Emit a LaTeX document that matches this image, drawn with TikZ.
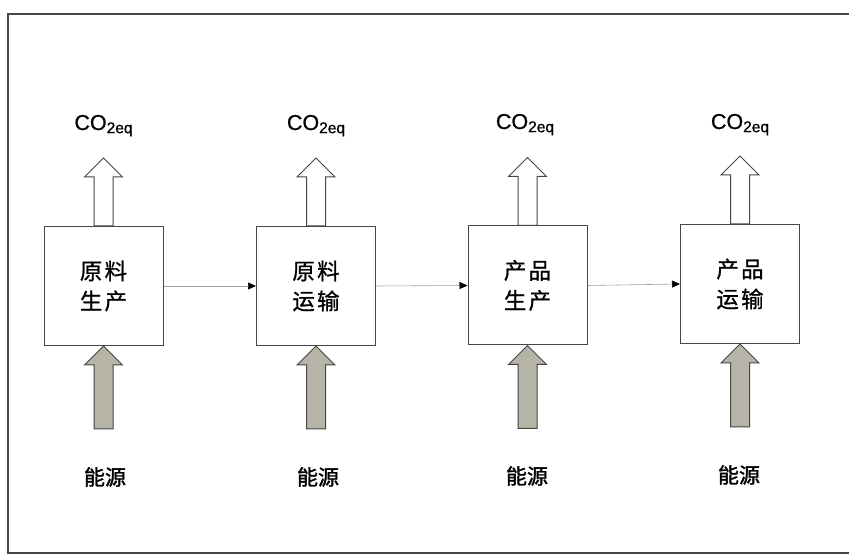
\documentclass[tikz,border=0pt]{standalone}
\usepackage{fontspec}
\setmainfont{Liberation Sans}
\newfontfamily\cjk[FakeBold=0.8,LetterSpace=10]{Noto Sans CJK SC}
\newfontfamily\cjkb[FakeBold=1.6]{Noto Sans CJK SC}
\newfontfamily\cofont[FakeBold=0.9]{Liberation Sans}
\usetikzlibrary{arrows.meta}
\definecolor{framec}{RGB}{70,70,70}
\definecolor{energyfill}{RGB}{182,180,166}
\definecolor{flowc}{RGB}{160,160,160}
\tikzset{
  stagebox/.style={draw=framec, line width=1pt, fill=white, minimum width=119pt, minimum height=119pt, inner sep=0pt, align=center, font=\cjk\fontsize{22.5}{30}\selectfont},
  emitarrow/.style={draw=framec, line width=1pt, fill=white, line join=miter},
  energyarrow/.style={draw=framec, line width=1pt, fill=energyfill, line join=miter},
  flowline/.style={draw=flowc, line width=0.6pt, -{Triangle[length=8pt,width=7pt,color=black]}},
  colabel/.style={anchor=base, inner sep=0pt, font=\cofont\fontsize{21.5}{21.5}\selectfont},
  enlabel/.style={inner sep=0pt, font=\cjkb\fontsize{21}{21}\selectfont}
}
\newcommand{\cosub}{CO\raisebox{-0.28ex}{\fontsize{15.5}{15.5}\selectfont 2eq}}
\begin{document}
\begin{tikzpicture}[x=1pt,y=1pt]
\useasboundingbox (0,0) rectangle (849,556);
\fill[white] (0,0) rectangle (849,556);
% frame
\draw[framec, line width=1.2pt] (849.6,542) -- (8,542) -- (8,3) -- (849.6,3);
% stages
\node[stagebox] (b1) at (103.5,270) {原料\\生产};
\node[stagebox] (b2) at (316,270) {原料\\运输};
\node[stagebox] (b3) at (527.5,270.5) {产品\\生产};
\node[stagebox] (b4) at (740,272) {产品\\运输};
% flows
\draw[flowline] (b1.east) -- (b2.west);
\draw[flowline] (b2.east) -- (b3.west);
\draw[flowline] (b3.east) -- (b4.west);
% emission arrows and labels
\foreach \b in {b1,b2,b3,b4}{
  \draw[emitarrow] ([xshift=-9.5pt]\b.north) -- ++(0,49) -- ++(-9.5,0) -- ++(19,19) -- ++(19,-19) -- ++(-9.5,0) -- ++(0,-49) -- cycle;
  \draw[energyarrow] (\b.south) -- ++(-19,-19) -- ++(9.5,0) -- ++(0,-64) -- ++(19,0) -- ++(0,64) -- ++(9.5,0) -- cycle;
}
\node[colabel] (c1) at (103.5,426) {\cosub};
\node[colabel] (c2) at (316,426) {\cosub};
\node[colabel] (c3) at (525,427) {\cosub};
\node[colabel] (c4) at (740,427) {\cosub};
\node[enlabel] (e1) at (105,79) {能源};
\node[enlabel] (e2) at (318,79) {能源};
\node[enlabel] (e3) at (527,80) {能源};
\node[enlabel] (e4) at (739,81) {能源};
\end{tikzpicture}
\end{document}
